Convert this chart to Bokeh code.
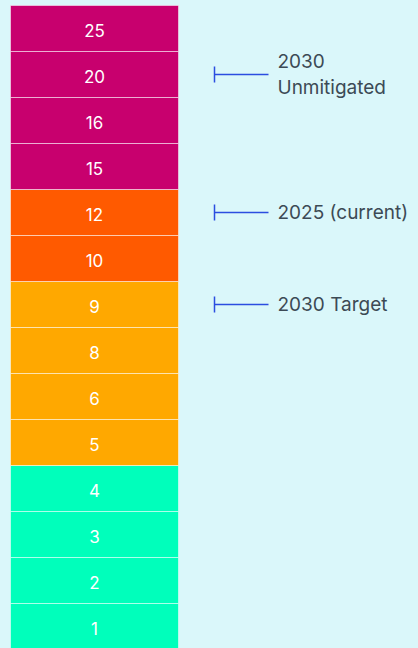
import math
from bokeh.plotting import figure
from bokeh.models import Range1d, ColumnDataSource
from bokeh.core.properties import value
from bokeh.embed import file_html
from bokeh.resources import INLINE

# ---- data ----
levels = [1, 2, 3, 4, 5, 6, 8, 9, 10, 12, 15, 16, 20, 25]
level_colors = (["#00ffbb"] * 4 + ["#ffa800"] * 4 + ["#ff5a00"] * 2 + ["#c8006e"] * 4)
marker_labels = ["2030\nUnmitigated", "2025 (current)", "2030 Target"]
marker_levels = [20, 12, 9]

BG = "#daf7fa"

idx = list(range(len(levels)))
cells = ColumnDataSource(dict(
    bottom=[i for i in idx],
    top=[i + 1 for i in idx],
    mid=[i + 0.5 for i in idx],
    label=[str(v) for v in levels],
    color=level_colors,
))

mpos = [levels.index(v) + 0.5 for v in marker_levels]
marks = ColumnDataSource(dict(y=mpos, label=marker_labels))

p = figure(width=418, height=648, output_backend="svg", toolbar_location=None,
           x_range=Range1d(0, 418), y_range=Range1d(1 / 46, 649 / 46),
           min_border=0)
p.axis.visible = False
p.grid.visible = False
p.outline_line_color = None
p.background_fill_color = BG
p.border_fill_color = BG

p.quad(left=10, right=178, bottom="bottom", top="top", fill_color="color",
       line_color="white", line_alpha=0.5, line_width=1, source=cells)
p.text(x=94, y="mid", text="label", text_color="white", text_align="center",
       text_baseline="middle", text_font=value("Inter"), text_font_size="17px",
       y_offset=1.5, source=cells)

p.segment(x0=214, x1=268, y0="y", y1="y", line_color="#2b4de0", line_width=1.5,
          source=marks)
p.scatter(x=214, y="y", marker="dash", angle=math.pi / 2, size=16,
          line_color="#2b4de0", line_width=1.5, source=marks)
p.text(x=277, y="y", text="label", text_color="#3c4a55", text_align="left",
       text_baseline="middle", text_font=value("Inter"), text_font_size="19px",
       text_line_height=1.13, source=marks)

tmpl = ("{% block preamble %}<style>html,body{margin:0 !important;padding:0;"
        "background:" + BG + ";overflow:hidden;}</style>{% endblock %}")
open("out.html", "w").write(file_html(p, INLINE, template=tmpl))
